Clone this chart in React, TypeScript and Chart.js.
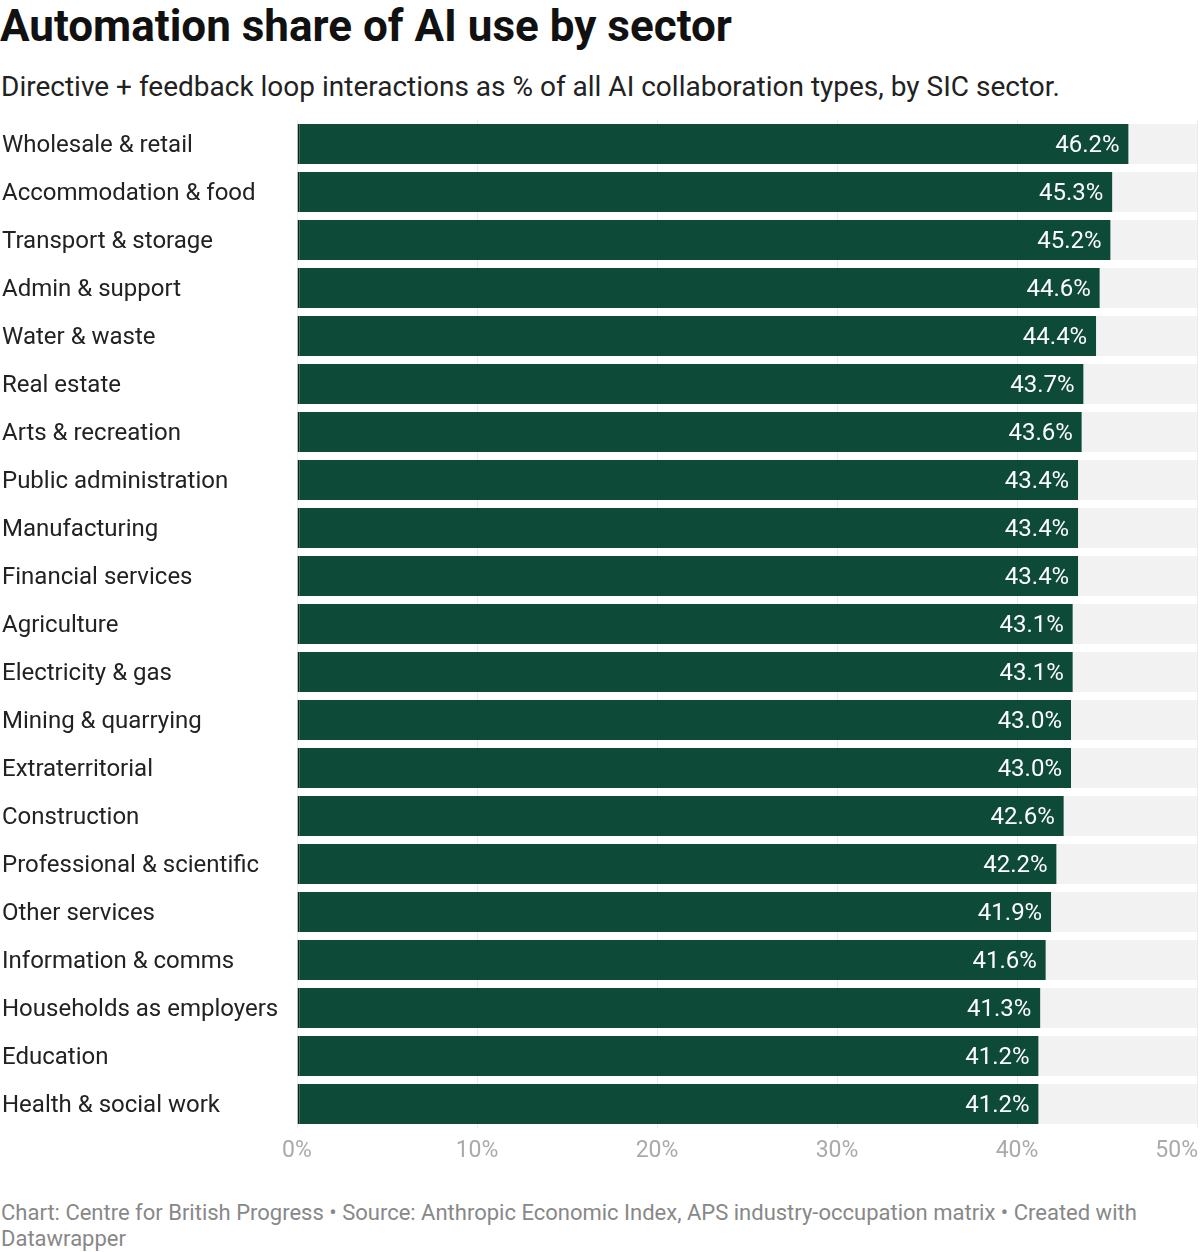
import { useEffect, useRef } from "react";
import { Chart, registerables } from "chart.js";

Chart.register(...registerables);

const sectors = [
  "Wholesale & retail", "Accommodation & food", "Transport & storage", "Admin & support",
  "Water & waste", "Real estate", "Arts & recreation", "Public administration",
  "Manufacturing", "Financial services", "Agriculture", "Electricity & gas",
  "Mining & quarrying", "Extraterritorial", "Construction", "Professional & scientific",
  "Other services", "Information & comms", "Households as employers", "Education",
  "Health & social work",
];
const shares = [46.2, 45.3, 45.2, 44.6, 44.4, 43.7, 43.6, 43.4, 43.4, 43.4, 43.1, 43.1, 43.0, 43.0, 42.6, 42.2, 41.9, 41.6, 41.3, 41.2, 41.2];
const axisMax = 50;
const xTicks = [0, 10, 20, 30, 40, 50];

const FONT = "Roboto, 'Noto Sans', sans-serif";

// value labels inside bar ends + x tick labels (last one right-aligned)
const labelsPlugin = {
  id: "labels",
  afterDatasetsDraw(chart: any) {
    const ctx = chart.ctx;
    const meta = chart.getDatasetMeta(0);
    ctx.save();
    ctx.font = `24px ${FONT}`;
    ctx.fillStyle = "#ffffff";
    ctx.textAlign = "right";
    ctx.textBaseline = "middle";
    meta.data.forEach((bar: any, i: number) => {
      ctx.fillText(shares[i].toFixed(1) + "%", bar.x - 9, bar.y + 2);
    });
    const xs = chart.scales.x;
    ctx.font = `23px ${FONT}`;
    ctx.fillStyle = "#aaaaaa";
    xTicks.forEach((t, i) => {
      const px = xs.getPixelForValue(t);
      const last = i === xTicks.length - 1;
      ctx.textAlign = last ? "right" : "center";
      ctx.fillText(t + "%", last ? px + 1 : px, xs.bottom - 22);
    });
    ctx.restore();
  },
};

export default function App() {
  const ref = useRef<HTMLCanvasElement>(null);

  useEffect(() => {
    document.body.style.margin = "0";
    if (!ref.current) return;
    const chart = new Chart(ref.current, {
      type: "bar",
      data: {
        labels: sectors,
        datasets: [
          {
            data: shares,
            backgroundColor: "#0d4a38",
            borderColor: "#08261d",
            borderWidth: { left: 2, right: 0, top: 0, bottom: 0 },
            borderSkipped: false,
            barPercentage: 40 / 48,
            categoryPercentage: 1,
            grouped: false,
            order: 1,
          },
          {
            data: sectors.map(() => axisMax),
            backgroundColor: "#f2f2f2",
            barPercentage: 40 / 48,
            categoryPercentage: 1,
            grouped: false,
            order: 2,
          },
        ],
      },
      options: {
        indexAxis: "y",
        animation: false,
        responsive: false,
        events: [],
        layout: { padding: { left: 2, right: 3, top: 10, bottom: 0 } },
        plugins: { legend: { display: false }, tooltip: { enabled: false } },
        scales: {
          x: {
            min: 0,
            max: axisMax,
            ticks: { display: false, stepSize: 10 },
            grid: { color: "#ececec", drawTicks: false },
            border: { display: false },
            afterFit: (s: any) => { s.height = 45; s.paddingLeft = 0; s.paddingRight = 0; },
          },
          y: {
            ticks: {
              crossAlign: "far",
              color: "#222222",
              font: { family: FONT, size: 24 },
              padding: 0,
              labelOffset: 2,
            },
            grid: { display: false, drawTicks: false },
            border: { display: false },
            afterFit: (s: any) => { s.width = 295; s.paddingTop = 0; s.paddingBottom = 0; },
          },
        },
      },
      plugins: [labelsPlugin],
    });
    return () => chart.destroy();
  }, []);

  return (
    <div style={{ position: "relative", width: 1200, height: 1252, fontFamily: FONT, background: "#fff" }}>
      <div style={{ position: "absolute", left: 0, top: 0, fontSize: 44, fontWeight: 700, color: "#111", lineHeight: "52px" }}>
        Automation share of AI use by sector
      </div>
      <div style={{ position: "absolute", left: 1, top: 69, fontSize: 28, color: "#222", lineHeight: "36px" }}>
        Directive + feedback loop interactions as % of all AI collaboration types, by SIC sector.
      </div>
      <canvas ref={ref} width={1200} height={1063} style={{ position: "absolute", left: 0, top: 110 }} />
      <div style={{ position: "absolute", left: 1, top: 1200, fontSize: 22, color: "#888", lineHeight: "26px" }}>
        Chart: Centre for British Progress • Source: Anthropic Economic Index, APS industry-occupation matrix • Created with
        <br />
        Datawrapper
      </div>
    </div>
  );
}
